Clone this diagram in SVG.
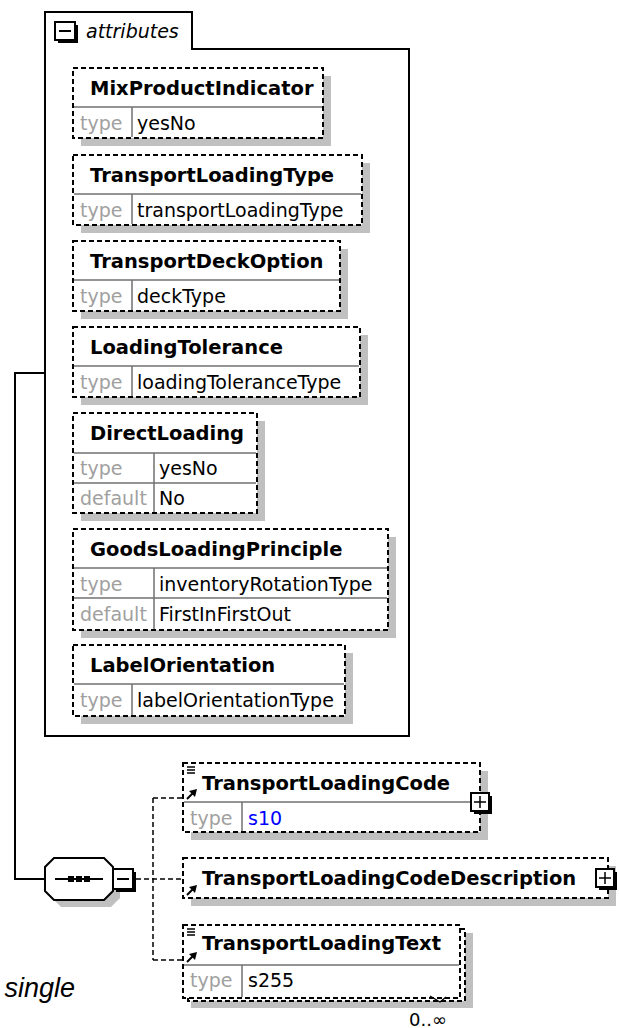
<svg xmlns="http://www.w3.org/2000/svg" width="619" height="1028" viewBox="0 0 619 1028">
<style>
.bx{fill:#fff;stroke:#000;stroke-width:2;stroke-dasharray:5 3}
.sh{fill:#c0c0c0}
.dv{stroke:#707070;stroke-width:1.5}
.h{font-family:"DejaVu Sans",sans-serif;font-weight:bold;font-size:19.5px;fill:#000}
.t{font-family:"DejaVu Sans",sans-serif;font-size:19px;fill:#a0a0a0}
.v{font-family:"DejaVu Sans",sans-serif;font-size:19px;fill:#000}
.con{stroke:#000;stroke-width:2;fill:none}
.dcon{stroke:#000;stroke-width:1.5;stroke-dasharray:5 3;fill:none}
.ic{stroke:#000;stroke-width:1.3;fill:none}
</style>
<rect width="619" height="1028" fill="#fff"/>

<g id="connectors">
<path class="con" d="M45,373 H15 V879 H45"/>
<path class="dcon" d="M136,879 H183"/>
<path class="dcon" d="M153,798 V960"/>
<path class="dcon" d="M153,798 H183"/>
<path class="dcon" d="M153,960 H183"/>
</g>

<g id="attributes">
<path d="M45,736 V12 H192 V49 H409 V736 Z" fill="none" stroke="#000" stroke-width="2"/>
<rect x="58" y="25" width="20" height="18" fill="#000"/>
<rect x="55" y="22" width="20" height="18" fill="#fff" stroke="#000" stroke-width="2"/>
<line x1="59" y1="31" x2="71" y2="31" stroke="#000" stroke-width="2"/>
<text x="86" y="38" font-family="DejaVu Sans, sans-serif" font-style="italic" font-size="19px">attributes</text>
</g>

<g id="MixProductIndicator">
<rect class="sh" x="81" y="76" width="250" height="70"/>
<rect class="bx" x="73" y="68" width="250" height="70"/>
<line class="dv" x1="74" y1="107" x2="322" y2="107"/>
<line class="dv" x1="132" y1="107" x2="132" y2="137"/>
<text class="h" x="90" y="95">MixProductIndicator</text>
<text class="t" x="80" y="130">type</text>
<text class="v" x="137" y="130">yesNo</text>
</g>

<g id="TransportLoadingType">
<rect class="sh" x="81" y="163" width="289" height="70"/>
<rect class="bx" x="73" y="155" width="289" height="70"/>
<line class="dv" x1="74" y1="194" x2="361" y2="194"/>
<line class="dv" x1="132" y1="194" x2="132" y2="224"/>
<text class="h" x="90" y="182">TransportLoadingType</text>
<text class="t" x="80" y="217">type</text>
<text class="v" x="137" y="217">transportLoadingType</text>
</g>

<g id="TransportDeckOption">
<rect class="sh" x="81" y="249" width="267" height="70"/>
<rect class="bx" x="73" y="241" width="267" height="70"/>
<line class="dv" x1="74" y1="280" x2="339" y2="280"/>
<line class="dv" x1="132" y1="280" x2="132" y2="310"/>
<text class="h" x="90" y="268">TransportDeckOption</text>
<text class="t" x="80" y="303">type</text>
<text class="v" x="137" y="303">deckType</text>
</g>

<g id="LoadingTolerance">
<rect class="sh" x="81" y="335" width="287" height="70"/>
<rect class="bx" x="73" y="327" width="287" height="70"/>
<line class="dv" x1="74" y1="366" x2="359" y2="366"/>
<line class="dv" x1="132" y1="366" x2="132" y2="396"/>
<text class="h" x="90" y="354">LoadingTolerance</text>
<text class="t" x="80" y="389">type</text>
<text class="v" x="137" y="389">loadingToleranceType</text>
</g>

<g id="DirectLoading">
<rect class="sh" x="81" y="421" width="184" height="100"/>
<rect class="bx" x="73" y="413" width="184" height="100"/>
<line class="dv" x1="74" y1="453" x2="256" y2="453"/>
<line class="dv" x1="74" y1="483" x2="256" y2="483"/>
<line class="dv" x1="154" y1="453" x2="154" y2="512"/>
<text class="h" x="90" y="440">DirectLoading</text>
<text class="t" x="80" y="475">type</text>
<text class="v" x="159" y="475">yesNo</text>
<text class="t" x="80" y="505">default</text>
<text class="v" x="159" y="505">No</text>
</g>

<g id="GoodsLoadingPrinciple">
<rect class="sh" x="81" y="537" width="315" height="101"/>
<rect class="bx" x="73" y="529" width="315" height="101"/>
<line class="dv" x1="74" y1="568" x2="387" y2="568"/>
<line class="dv" x1="74" y1="598" x2="387" y2="598"/>
<line class="dv" x1="154" y1="568" x2="154" y2="629"/>
<text class="h" x="90" y="556">GoodsLoadingPrinciple</text>
<text class="t" x="80" y="591">type</text>
<text class="v" x="159" y="591">inventoryRotationType</text>
<text class="t" x="80" y="621">default</text>
<text class="v" x="159" y="621">FirstInFirstOut</text>
</g>

<g id="LabelOrientation">
<rect class="sh" x="81" y="653" width="272" height="71"/>
<rect class="bx" x="73" y="645" width="272" height="71"/>
<line class="dv" x1="74" y1="684" x2="344" y2="684"/>
<line class="dv" x1="132" y1="684" x2="132" y2="715"/>
<text class="h" x="90" y="672">LabelOrientation</text>
<text class="t" x="80" y="707">type</text>
<text class="v" x="137" y="707">labelOrientationType</text>
</g>

<g id="sequence">
<polygon class="sh" points="61,865 111,865 120,874 120,898 111,907 61,907 52,898 52,874"/>
<polygon points="54,858 104,858 113,867 113,891 104,900 54,900 45,891 45,867" fill="#fff" stroke="#000" stroke-width="2"/>
<line x1="55" y1="879" x2="103" y2="879" stroke="#000" stroke-width="2"/>
<rect x="68" y="876" width="6" height="6" fill="#000"/>
<rect x="76" y="876" width="6" height="6" fill="#000"/>
<rect x="84" y="876" width="6" height="6" fill="#000"/>
<rect x="116" y="872" width="20" height="20" fill="#000"/>
<rect x="113" y="869" width="20" height="20" fill="#fff" stroke="#000" stroke-width="2"/>
<line x1="117" y1="879" x2="129" y2="879" stroke="#000" stroke-width="2"/>
</g>

<g id="TransportLoadingCode">
<rect class="sh" x="191" y="771" width="297" height="69"/>
<rect class="bx" x="183" y="763" width="297" height="69"/>
<line class="dv" x1="184" y1="802" x2="479" y2="802"/>
<line class="dv" x1="242" y1="802" x2="242" y2="831"/>
<path class="ic" d="M187,767 H195 M187,770 H195 M187,773 H195"/>
<path d="M187,799 L193,793" stroke="#000" stroke-width="2"/>
<polygon points="197,789 189,791 195,797" fill="#000"/>
<text class="h" x="202" y="790">TransportLoadingCode</text>
<text class="t" x="190" y="825">type</text>
<text x="248" y="825" font-family="DejaVu Sans, sans-serif" font-size="19px" fill="#0000ff">s10</text>
<rect x="474" y="796" width="18" height="18" fill="#000"/>
<rect x="471" y="793" width="18" height="18" fill="#fff" stroke="#000" stroke-width="2"/>
<path d="M474,802 H486 M480,796 V808" stroke="#000" stroke-width="1.5"/>
</g>

<g id="TransportLoadingCodeDescription">
<rect class="sh" x="191" y="866" width="425" height="40"/>
<rect class="bx" x="183" y="858" width="425" height="40"/>
<path d="M187,895 L193,889" stroke="#000" stroke-width="2"/>
<polygon points="197,885 189,887 195,893" fill="#000"/>
<text class="h" x="202" y="885">TransportLoadingCodeDescription</text>
<rect x="599" y="872" width="18" height="18" fill="#000"/>
<rect x="596" y="869" width="18" height="18" fill="#fff" stroke="#000" stroke-width="2"/>
<path d="M599,878 H611 M605,872 V884" stroke="#000" stroke-width="1.5"/>
</g>

<g id="TransportLoadingText">
<rect class="sh" x="191" y="933" width="282" height="75"/>
<rect class="bx" x="188" y="929" width="277" height="72"/>
<rect class="bx" x="183" y="925" width="277" height="73"/>
<line class="dv" x1="184" y1="965" x2="459" y2="965"/>
<line class="dv" x1="242" y1="965" x2="242" y2="997"/>
<path class="ic" d="M187,929 H195 M187,932 H195 M187,935 H195"/>
<path d="M187,962 L193,956" stroke="#000" stroke-width="2"/>
<polygon points="197,952 189,954 195,960" fill="#000"/>
<text class="h" x="202" y="950">TransportLoadingText</text>
<text class="t" x="190" y="987">type</text>
<text class="v" x="248" y="987">s255</text>
<path d="M430,996 L440,1002 L446,997" stroke="#000" stroke-width="1.3" fill="none"/>
<text x="409" y="1026" font-family="DejaVu Sans, sans-serif" font-size="18px">0..∞</text>
</g>

<text x="75" y="997" text-anchor="end" font-family="Liberation Sans, Arial, sans-serif" font-style="italic" font-size="27px">single</text>
</svg>
